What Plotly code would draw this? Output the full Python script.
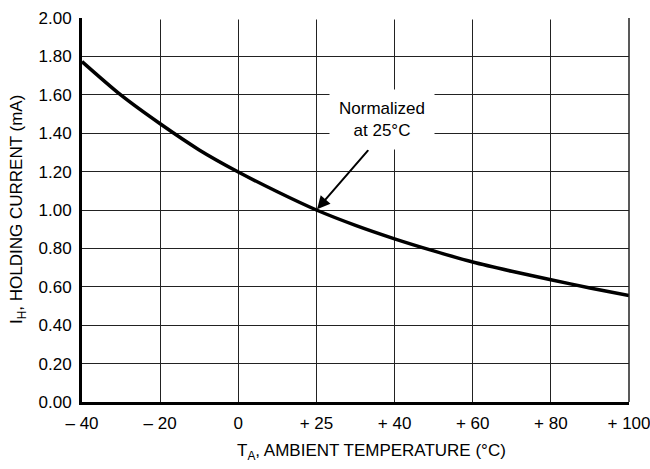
import plotly.graph_objects as go

# Data (x axis is an evenly spaced, non-linear temperature scale)
temp_labels = ["– 40", "– 20", "0", "+ 25", "+ 40", "+ 60", "+ 80", "+ 100"]
tick_pos = [0, 1, 2, 3, 4, 5, 6, 7]
curve_pos = [0, 0.5, 1, 1.5, 2, 2.5, 3, 3.5, 4, 4.5, 5, 5.5, 6, 6.5, 7]
holding_current = [1.773, 1.598, 1.449, 1.313, 1.198, 1.095, 1.00, 0.92,
                   0.850, 0.787, 0.729, 0.681, 0.637, 0.594, 0.554]
y_ticks = [0.0, 0.2, 0.4, 0.6, 0.8, 1.0, 1.2, 1.4, 1.6, 1.8, 2.0]
y_ticktext = ["%.2f" % v for v in y_ticks]
norm_pos, norm_val = 3, 1.00  # normalized at +25 °C

FONT = "Liberation Sans, Arial, Helvetica, sans-serif"
grid_c = "#222222"

fig = go.Figure()
fig.add_trace(go.Scatter(
    x=curve_pos, y=holding_current, mode="lines",
    line=dict(color="black", width=3.5, shape="spline", smoothing=0.8),
    showlegend=False, hoverinfo="skip",
))

fig.update_layout(
    width=650, height=469,
    margin=dict(l=82, r=21, t=18, b=67),
    paper_bgcolor="white", plot_bgcolor="white",
    font=dict(family=FONT, size=17, color="black"),
    xaxis=dict(range=[tick_pos[0], tick_pos[-1]], tickvals=tick_pos,
               ticktext=temp_labels, ticklabeloverflow="allow",
               showgrid=True, gridcolor=grid_c, gridwidth=1.3,
               showline=True, linecolor="black", linewidth=3,
               zeroline=False, ticks="", automargin=False,
               ticklabelstandoff=4),
    yaxis=dict(range=[y_ticks[0], y_ticks[-1]], tickvals=y_ticks,
               ticktext=y_ticktext, ticklabeloverflow="allow",
               showgrid=True, gridcolor=grid_c, gridwidth=1.3,
               showline=True, linecolor="black", linewidth=3,
               zeroline=False, ticks="", automargin=False,
               ticklabelstandoff=4),
)

# hide the top grid line (reference has no border/grid at 2.00)
fig.add_shape(type="line", xref="paper", yref="y", x0=0.004, x1=0.995,
              y0=y_ticks[-1], y1=y_ticks[-1], layer="above",
              line=dict(color="white", width=3))
# vertical grid line at the right edge (+100)
fig.add_shape(type="line", xref="paper", yref="y", x0=1, x1=1,
              y0=y_ticks[0], y1=y_ticks[-1], line=dict(color=grid_c, width=1.5))

# axis titles
fig.add_annotation(text="T<sub>A</sub>, AMBIENT TEMPERATURE (°C)",
                   xref="paper", yref="paper", x=0.529, y=-0.13,
                   xanchor="center", yanchor="middle", showarrow=False)
fig.add_annotation(text="I<sub>H</sub>, HOLDING CURRENT (mA)", textangle=-90,
                   xref="paper", yref="paper", x=-0.117, y=0.5,
                   xanchor="center", yanchor="middle", showarrow=False)

# Arrow to normalization point
fig.add_annotation(x=norm_pos, y=norm_val, ax=3.68, ay=1.32,
                   xref="x", yref="y", axref="x", ayref="y",
                   text="", showarrow=True, arrowhead=2, arrowsize=1.3,
                   arrowwidth=2, arrowcolor="black", standoff=1)
# label with white background
fig.add_annotation(x=3.84, y=1.47, xref="x", yref="y",
                   text="Normalized<br>at 25°C", showarrow=False,
                   bgcolor="white", borderpad=9)

fig.write_html("out.html")
